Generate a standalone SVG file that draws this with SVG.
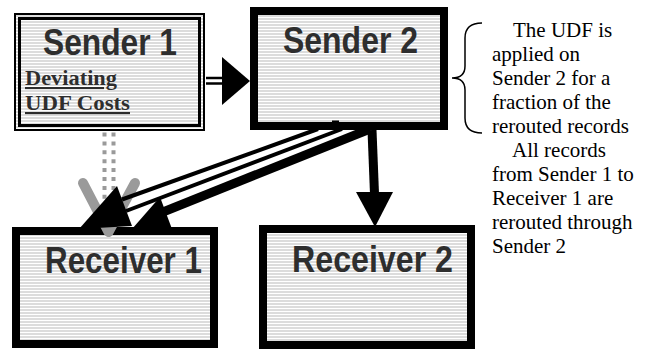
<svg xmlns="http://www.w3.org/2000/svg" width="646" height="349" viewBox="0 0 646 349">
<style>
.fill{fill:url(#stripes)}
.box{fill:url(#stripes);stroke:#000;stroke-width:8}
.title{font-family:"Liberation Sans",Arial,sans-serif;font-weight:bold;font-size:37px;fill:#2e2e2e}
.sub{font-family:"Liberation Serif","Times New Roman",serif;font-weight:bold;font-size:21px;fill:#2e2e2e;text-decoration:underline}
.note{font-family:"Liberation Serif","Times New Roman",serif;font-size:21px;fill:#000}
.line{stroke:#000;fill:none}
.head{fill:#000}
</style>
<defs>
<pattern id="stripes" width="8" height="3" patternUnits="userSpaceOnUse">
<rect width="8" height="3" fill="#fff"/>
<rect width="8" height="2" fill="#dcdcdc"/>
</pattern>
</defs>
<rect width="646" height="349" fill="#fff"/>

<g id="sender1">
<rect x="14" y="13" width="191" height="118" class="fill"/>
<rect x="15" y="14" width="189" height="116" fill="none" stroke="#000" stroke-width="2"/>
<rect x="19.5" y="18.5" width="180" height="107" fill="none" stroke="#000" stroke-width="3"/>
<text class="title" x="43" y="55" textLength="134" lengthAdjust="spacingAndGlyphs">Sender 1</text>
<text class="sub" x="25" y="85" textLength="92" lengthAdjust="spacingAndGlyphs">Deviating</text>
<text class="sub" x="25" y="110" textLength="105" lengthAdjust="spacingAndGlyphs">UDF Costs</text>
</g>

<g id="sender2">
<rect x="254" y="11" width="190" height="115" class="box"/>
<text class="title" x="283" y="53" textLength="135" lengthAdjust="spacingAndGlyphs">Sender 2</text>
</g>

<g id="receiver1">
<rect x="16" y="231" width="198" height="113" class="box"/>
<text class="title" x="45" y="273" textLength="157" lengthAdjust="spacingAndGlyphs">Receiver 1</text>
</g>

<g id="receiver2">
<rect x="263" y="229" width="208" height="116" class="box"/>
<text class="title" x="292" y="272" textLength="161" lengthAdjust="spacingAndGlyphs">Receiver 2</text>
</g>

<g id="connectors">
<line class="line" x1="206" y1="78" x2="224" y2="78" stroke-width="2.5"/>
<line class="line" x1="206" y1="83.5" x2="224" y2="83.5" stroke-width="2.5"/>
<polygon class="head" points="222,57 250,81 222,105"/>
<rect x="332" y="120.5" width="7" height="1.5" fill="#000"/>
<line class="line" x1="372" y1="130" x2="374.5" y2="194" stroke-width="9"/>
<polygon class="head" points="356,192 393,192 375,227"/>
<line x1="104.5" y1="132.5" x2="104.5" y2="200" stroke="#9a9a9a" stroke-width="4" stroke-dasharray="4 4.9"/>
<line x1="113.5" y1="132.5" x2="113.5" y2="200" stroke="#9a9a9a" stroke-width="4" stroke-dasharray="4 4.9"/>
<polyline points="83,183 108.5,232 135,183" fill="none" stroke="#9a9a9a" stroke-width="10" stroke-linecap="round" stroke-linejoin="round"/>
<line class="line" x1="318" y1="129" x2="122" y2="199.5" stroke-width="4"/>
<line class="line" x1="342" y1="129" x2="126" y2="211" stroke-width="4"/>
<polygon class="head" points="117,186 132,226 79,229"/>
<line class="line" x1="370" y1="129" x2="163" y2="212" stroke-width="9"/>
<polygon class="head" points="160,197 172,229 132,229"/>
</g>

<g id="note">
<path d="M482,23 Q465,23 465,38 L465,66 Q465,78 452,78 Q465,78 465,90 L465,118 Q465,133 482,133" fill="none" stroke="#000" stroke-width="1.5"/>
<text class="note" x="513" y="37">The UDF is</text>
<text class="note" x="492" y="61">applied on</text>
<text class="note" x="492" y="85">Sender 2 for a</text>
<text class="note" x="492" y="109">fraction of the</text>
<text class="note" x="492" y="133">rerouted records</text>
<text class="note" x="512" y="157">All records</text>
<text class="note" x="492" y="181">from Sender 1 to</text>
<text class="note" x="492" y="205">Receiver 1 are</text>
<text class="note" x="492" y="229">rerouted through</text>
<text class="note" x="492" y="253">Sender 2</text>
</g>
</svg>
